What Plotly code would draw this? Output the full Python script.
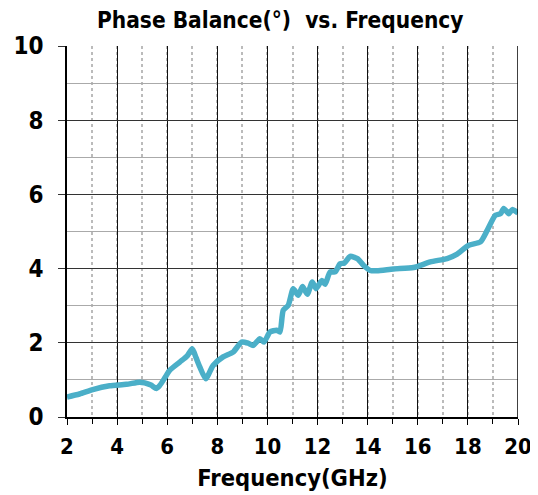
import plotly.graph_objects as go

freq_ghz = [2.0, 2.5, 3.03, 3.7, 4.37, 4.9, 5.1, 5.35, 5.57, 5.7, 5.9, 6.1, 6.5, 6.8, 7.0, 7.15, 7.3,
            7.54, 7.83, 8.23, 8.63, 8.97, 9.23, 9.43, 9.7, 9.86, 10.1, 10.37, 10.5, 10.63, 10.83,
            11.03, 11.23, 11.4, 11.59, 11.79, 11.94, 12.17, 12.3, 12.5, 12.7, 12.9, 13.07, 13.3,
            13.59, 13.83, 14.1, 14.37, 15.03, 15.83, 16.5, 17.17, 17.57, 18.03, 18.5, 18.77,
            19.1, 19.3, 19.43, 19.63, 19.77, 20.0]
phase_deg = [0.54, 0.62, 0.74, 0.84, 0.88, 0.94, 0.92, 0.86, 0.77, 0.85, 1.05, 1.26, 1.48, 1.65, 1.84, 1.6, 1.35,
             1.03, 1.39, 1.62, 1.75, 2.02, 1.99, 1.93, 2.11, 2.02, 2.29, 2.34, 2.29, 2.88, 3.01,
             3.46, 3.28, 3.52, 3.31, 3.64, 3.46, 3.68, 3.58, 3.91, 3.91, 4.13, 4.15, 4.33,
             4.27, 4.09, 3.95, 3.94, 3.99, 4.03, 4.18, 4.27, 4.39, 4.63, 4.72, 5.03,
             5.44, 5.48, 5.62, 5.48, 5.59, 5.5]

x_ticks = [2, 4, 6, 8, 10, 12, 14, 16, 18, 20]
y_ticks = [0, 2, 4, 6, 8, 10]

font_family = "DejaVu Sans Condensed, DejaVu Sans, Verdana, sans-serif"

fig = go.Figure()
fig.add_trace(go.Scatter(
    x=freq_ghz, y=phase_deg, mode="lines",
    line=dict(color="#4BAFC8", width=5.5, shape="spline", smoothing=0.6),
    showlegend=False, hoverinfo="skip",
))

# page body has an 8px margin, so the figure is offset by (8, 8) in the window
fig.update_layout(
    width=538, height=495,
    margin=dict(l=59, r=28, t=38, b=86, autoexpand=False),
    paper_bgcolor="white", plot_bgcolor="white",
    title=dict(text="<b>Phase Balance(°)  vs. Frequency</b>", x=0.506, xanchor="center",
               y=0.976, yanchor="middle", automargin=False,
               font=dict(family=font_family, size=22.5, color="black")),
    font=dict(family=font_family, color="black"),
)

fig.update_xaxes(
    range=[2, 20], tickmode="array", tickvals=x_ticks, ticktext=[f"<b>{v}</b>" for v in x_ticks],
    tickfont=dict(size=22, color="black"), automargin=False, ticklabelstandoff=3,
    showgrid=True, gridcolor="#111111", gridwidth=1.3,
    showline=True, linecolor="black", linewidth=1.5, mirror=False,
    ticks="outside", ticklen=6, tickcolor="black", tickwidth=1.3,
    minor=dict(dtick=1, tick0=3, showgrid=True, gridcolor="#BBBBBB", griddash="dot", gridwidth=1.5,
               ticks="outside", ticklen=5, tickcolor="black", tickwidth=1),
    title=dict(text="<b>Frequency(GHz)</b>", font=dict(size=23.5, color="black"), standoff=11),
    zeroline=False,
)
fig.update_yaxes(
    range=[0, 10], tickmode="array", tickvals=y_ticks, ticktext=[f"<b>{v}</b>" for v in y_ticks],
    tickfont=dict(size=24, color="black"), automargin=False, ticklabelstandoff=10,
    showgrid=True, gridcolor="#333333", gridwidth=1.3,
    showline=True, linecolor="black", linewidth=1.5,
    ticks="outside", ticklen=7, tickcolor="#333333", tickwidth=1.3,
    minor=dict(dtick=1, tick0=1, showgrid=True, gridcolor="#AAAAAA", gridwidth=1.2),
    zeroline=False,
)
fig.add_shape(type="line", xref="x", yref="paper", x0=20, x1=20, y0=0, y1=1,
              line=dict(color="black", width=1.5))

fig.write_html("out.html")
